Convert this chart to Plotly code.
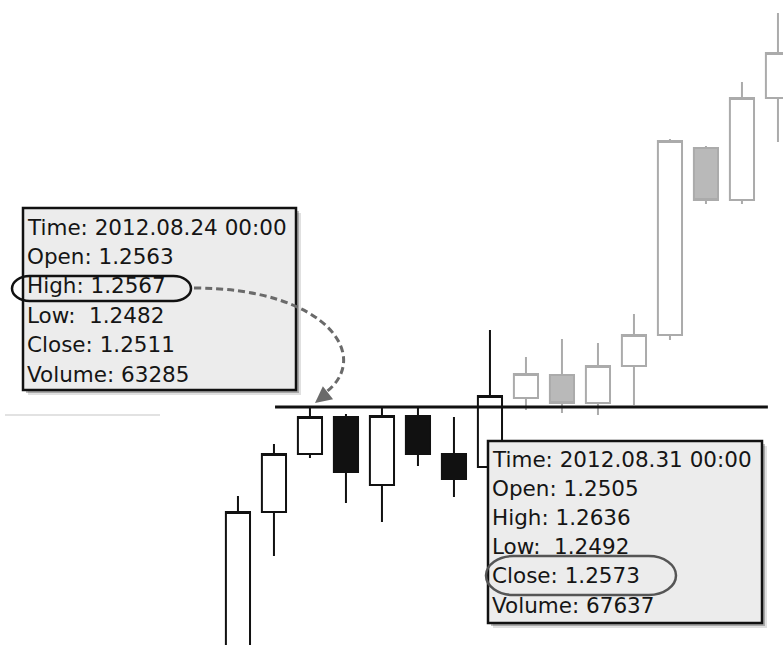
import plotly.graph_objects as go

# ---- data ----
dates = ["2012.08.22", "2012.08.23", "2012.08.24", "2012.08.27", "2012.08.28",
         "2012.08.29", "2012.08.30", "2012.08.31", "2012.09.03", "2012.09.04",
         "2012.09.05", "2012.09.06", "2012.09.07", "2012.09.10", "2012.09.11",
         "2012.09.12"]
opens  = [1.2274, 1.2462, 1.2520, 1.2557, 1.2489, 1.2558, 1.2520, 1.2507,
          1.2576, 1.2599, 1.2571, 1.2608, 1.2639, 1.2826, 1.2774, 1.2876]
highs  = [1.2478, 1.2530, 1.2567, 1.2560, 1.2567, 1.2567, 1.2557, 1.2644,
          1.2617, 1.2635, 1.2631, 1.2660, 1.2835, 1.2828, 1.2892, 1.2961]
lows   = [1.2254, 1.2418, 1.2516, 1.2471, 1.2452, 1.2508, 1.2477, 1.2492,
          1.2564, 1.2561, 1.2559, 1.2569, 1.2634, 1.2770, 1.2770, 1.2832]
closes = [1.2462, 1.2520, 1.2557, 1.2502, 1.2558, 1.2520, 1.2495, 1.2578,
          1.2600, 1.2571, 1.2608, 1.2639, 1.2833, 1.2774, 1.2876, 1.2921]
n_dark = 8  # first 8 candles drawn in black, the rest in grey
level = 1.2567

tip1 = ["Time: 2012.08.24 00:00", "Open: 1.2563", "High: 1.2567",
        "Low:  1.2482", "Close: 1.2511", "Volume: 63285"]
tip2 = ["Time: 2012.08.31 00:00", "Open: 1.2505", "High: 1.2636",
        "Low:  1.2492", "Close: 1.2573", "Volume: 67637"]

W, H = 783, 645
def px(x):
    return x / W
def py(y):
    return 1 - y / H

fig = go.Figure()
fig.add_trace(go.Candlestick(
    x=dates[:n_dark], open=opens[:n_dark], high=highs[:n_dark],
    low=lows[:n_dark], close=closes[:n_dark],
    increasing=dict(line=dict(color="#111111", width=2), fillcolor="white"),
    decreasing=dict(line=dict(color="#111111", width=2), fillcolor="#111111"),
    showlegend=False, hoverinfo="skip"))
fig.add_trace(go.Candlestick(
    x=dates[n_dark:], open=opens[n_dark:], high=highs[n_dark:],
    low=lows[n_dark:], close=closes[n_dark:],
    increasing=dict(line=dict(color="#ababab", width=2), fillcolor="white"),
    decreasing=dict(line=dict(color="#ababab", width=2), fillcolor="#b9b9b9"),
    showlegend=False, hoverinfo="skip"))

shapes = []
# faint line on the left
shapes.append(dict(type="line", xref="paper", yref="paper",
                   x0=px(5), x1=px(160), y0=py(415), y1=py(415),
                   line=dict(color="#e2e2e2", width=2)))
# horizontal level line
shapes.append(dict(type="line", xref="x", yref="y",
                   x0=1.03, x1=14.72, y0=level, y1=level,
                   line=dict(color="#111111", width=3)))

def box(x0, y0, x1, y1):
    out = []
    out.append(dict(type="rect", xref="paper", yref="paper",
                    x0=px(x0 + 5), x1=px(x1 + 5), y0=py(y0 + 5), y1=py(y1 + 5),
                    fillcolor="rgba(0,0,0,0.12)", line=dict(width=0)))
    out.append(dict(type="rect", xref="paper", yref="paper",
                    x0=px(x0 + 3), x1=px(x1 + 3), y0=py(y0 + 3), y1=py(y1 + 3),
                    fillcolor="rgba(0,0,0,0.25)", line=dict(width=0)))
    out.append(dict(type="rect", xref="paper", yref="paper",
                    x0=px(x0), x1=px(x1), y0=py(y0), y1=py(y1),
                    fillcolor="#ececec", line=dict(color="#111111", width=2.5)))
    return out

def P(x, y):
    return f"{px(x):.5f},{py(y):.5f}"

def stadium(x0, y0, x1, y1):
    ry = (y1 - y0) / 2
    rx = ry * 1.4
    cy = (y0 + y1) / 2
    k = 0.552
    d = (f"M{P(x0 + rx, y0)} L{P(x1 - rx, y0)} "
         f"C{P(x1 - rx + k * rx, y0)} {P(x1, cy - k * ry)} {P(x1, cy)} "
         f"C{P(x1, cy + k * ry)} {P(x1 - rx + k * rx, y1)} {P(x1 - rx, y1)} "
         f"L{P(x0 + rx, y1)} "
         f"C{P(x0 + rx - k * rx, y1)} {P(x0, cy + k * ry)} {P(x0, cy)} "
         f"C{P(x0, cy - k * ry)} {P(x0 + rx - k * rx, y0)} {P(x0 + rx, y0)} Z")
    return d

shapes += box(23, 208, 296, 390)
shapes += box(488, 441, 762, 623)

shapes.append(dict(type="path", xref="paper", yref="paper",
                   path=stadium(12, 276, 191, 301),
                   line=dict(color="#111111", width=2.5)))
shapes.append(dict(type="path", xref="paper", yref="paper",
                   path=stadium(486, 556, 676, 595),
                   line=dict(color="#555555", width=2.5)))

# dashed curved connector
curve = f"M{P(194, 288)} C{P(330, 288)} {P(375, 360)} {P(322, 395)}"
shapes.append(dict(type="path", xref="paper", yref="paper", path=curve,
                   line=dict(color="#6a6a6a", width=3, dash="7px,4px")))

annotations = []
for i, t in enumerate(tip1):
    annotations.append(dict(xref="paper", yref="paper", x=px(25), y=py(227 + i * 29.4),
                            xanchor="left", yanchor="middle", text=t, showarrow=False,
                            font=dict(family="DejaVu Sans", size=21.5, color="#151515")))
for i, t in enumerate(tip2):
    annotations.append(dict(xref="paper", yref="paper", x=px(490), y=py(459 + i * 29.2),
                            xanchor="left", yanchor="middle", text=t, showarrow=False,
                            font=dict(family="DejaVu Sans", size=21.5, color="#151515")))
# arrow head
annotations.append(dict(xref="paper", yref="paper", x=px(315), y=py(403),
                        ax=14, ay=-11, text="", showarrow=True, arrowhead=2,
                        arrowsize=1.1, arrowwidth=3, arrowcolor="#6a6a6a"))

fig.update_layout(
    width=W, height=H, margin=dict(l=0, r=0, t=0, b=0),
    paper_bgcolor="white", plot_bgcolor="white",
    boxgap=0.33, boxgroupgap=0, showlegend=False, hovermode=False,
    xaxis=dict(type="category", range=[-6.61, 15.14], visible=False,
               rangeslider=dict(visible=False), fixedrange=True),
    yaxis=dict(range=[1.2329, 1.2974], visible=False, fixedrange=True),
    shapes=shapes, annotations=annotations,
)

fig.write_html("out.html", config={"displayModeBar": False},
               post_script="document.body.style.margin='0';document.body.style.overflow='hidden';")
